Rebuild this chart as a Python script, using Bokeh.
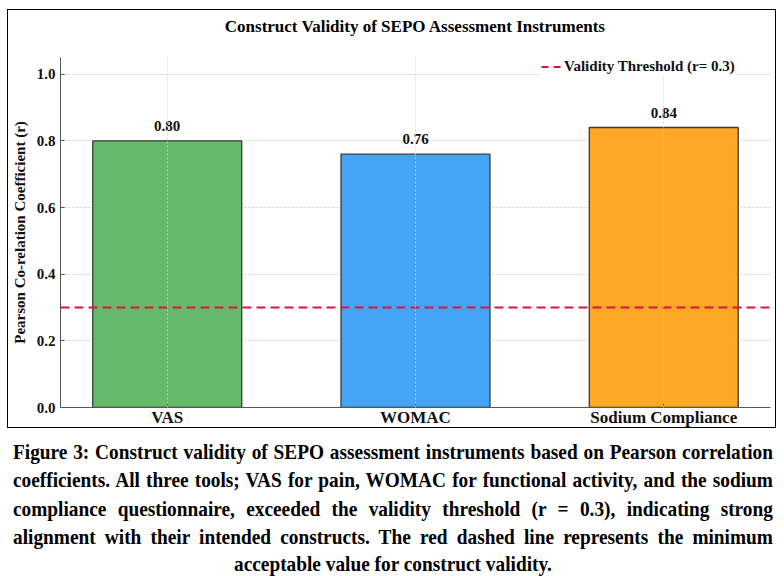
from bokeh.plotting import figure
from bokeh.models import (Range1d, FixedTicker, Span, Legend, LegendItem, Div,
                          ColumnDataSource, PrintfTickFormatter, Title)
from bokeh.layouts import column
from bokeh.core.properties import value
from bokeh.embed import file_html
from bokeh.resources import INLINE

# ---- data ----
categories = ["VAS", "WOMAC", "Sodium Compliance"]
values = [0.80, 0.76, 0.84]
colors = ["#66BB6A", "#42A5F5", "#FFA726"]
threshold = 0.3
y_ticks = [0.0, 0.2, 0.4, 0.6, 0.8, 1.0]
title_text = "Construct Validity of SEPO Assessment Instruments"
y_label = "Pearson Co-relation Coefficient (r)"
legend_label = "Validity Threshold (r= 0.3)"
caption_lines = [
    "Figure 3: Construct validity of SEPO assessment instruments based on Pearson correlation",
    "coefficients. All three tools; VAS for pain, WOMAC for functional activity, and the sodium",
    "compliance questionnaire, exceeded the validity threshold (r = 0.3), indicating strong",
    "alignment with their intended constructs. The red dashed line represents the minimum",
    "acceptable value for construct validity.",
]

SERIF = "Liberation Serif"
RED = "#DC143C"
AX = "#555555"

positions = list(range(len(categories)))
source = ColumnDataSource(dict(
    x=positions, top=values, color=colors,
    label=[f"{v:.2f}" for v in values],
))

p = figure(width=769, height=419,
           x_range=Range1d(-0.43, len(categories) - 1 + 0.43),
           y_range=Range1d(0, 1.05),
           output_backend="svg", toolbar_location=None,
           min_border_left=52, min_border_right=7,
           min_border_top=47, min_border_bottom=21)
p.styles = {"border": "1px solid black"}
p.outline_line_color = None
p.background_fill_color = "white"

# real title (outermost panel)
p.title.text = title_text
p.title.align = "center"
p.title.standoff = 0
p.title.text_font = SERIF
p.title.text_font_style = "bold"
p.title.text_font_size = "17px"
p.title.text_color = "#000000"

# blank spacer panel between the frame and the title
p.add_layout(Title(text=" ", text_font_size="1px", standoff=19), "above")

p.vbar(x="x", top="top", width=0.6, source=source, fill_color="color",
       line_color="#3a3a3a", line_width=1.3)

p.text(x="x", y="top", text="label", source=source, text_align="center",
       text_baseline="alphabetic", y_offset=-15, text_font=value(SERIF),
       text_font_style="bold", text_font_size="15px", text_color="#111111")

p.add_layout(Span(location=threshold, dimension="width", line_color=RED,
                  line_dash="9 5", line_width=2))
# one-point line: draws nothing itself, only supplies the legend swatch
leg_r = p.line(x=positions[:1], y=[threshold], line_color=RED,
               line_dash="7 5", line_width=2)

legend = Legend(items=[LegendItem(label=legend_label, renderers=[leg_r])],
                location=(481, 332))
legend.border_line_color = None
legend.background_fill_color = "white"
legend.background_fill_alpha = 1.0
legend.padding = 3
legend.glyph_width = 20
legend.glyph_height = 15
legend.label_height = 15
legend.label_standoff = 3
legend.label_text_font = SERIF
legend.label_text_font_style = "bold"
legend.label_text_font_size = "15px"
legend.label_text_color = "#111111"
p.add_layout(legend)

# axes
p.xaxis.ticker = FixedTicker(ticks=positions)
p.xaxis.major_label_overrides = {i: c for i, c in enumerate(categories)}
p.yaxis.ticker = FixedTicker(ticks=y_ticks)
p.yaxis.formatter = PrintfTickFormatter(format="%.1f")
p.yaxis.axis_label = y_label
for ax in (p.xaxis[0], p.yaxis[0]):
    ax.axis_line_color = AX
    ax.major_tick_line_color = AX
    ax.major_tick_in = 4
    ax.major_tick_out = 0
    ax.minor_tick_line_color = None
    ax.major_label_text_font = SERIF
    ax.major_label_text_font_style = "bold"
    ax.major_label_text_color = "#111111"
p.xaxis.major_label_text_font_size = "17px"
p.xaxis.major_label_standoff = 0
p.yaxis.major_label_text_font_size = "15px"
p.yaxis.major_label_standoff = 5
p.yaxis.axis_label_text_font = SERIF
p.yaxis.axis_label_text_font_style = "bold"
p.yaxis.axis_label_text_font_size = "15px"
p.yaxis.axis_label_text_color = "#111111"
p.yaxis.axis_label_standoff = 6

p.xgrid.grid_line_color = "#d0d0d0"
p.xgrid.grid_line_dash = "2 2"
p.xgrid.level = "overlay"
p.xgrid.grid_line_alpha = 0.8
p.ygrid.grid_line_color = "#d0d0d0"
p.ygrid.grid_line_dash = "2 2"

# caption
inner = "".join(
    f'<div style="text-align:justify;text-align-last:justify;white-space:nowrap;">{ln}</div>'
    for ln in caption_lines[:-1]
) + (f'<div style="text-align:center;line-height:18px;margin-top:4px;">'
     f'{caption_lines[-1]}</div>')
html = (
    '<div style="padding-left:1px;padding-top:5px;">'
    '<div style="width:826px;transform:scaleX(0.92);transform-origin:0 0;'
    "font-family:'Liberation Serif';font-weight:bold;font-size:21px;"
    'line-height:28.25px;color:#000;">' + inner + '</div></div>'
)
cap = Div(text=html, width=770, height=142)

layout = column(p, cap, spacing=0, margin=(9, 0, 0, 7))
open("out.html", "w").write(file_html(layout, INLINE))
